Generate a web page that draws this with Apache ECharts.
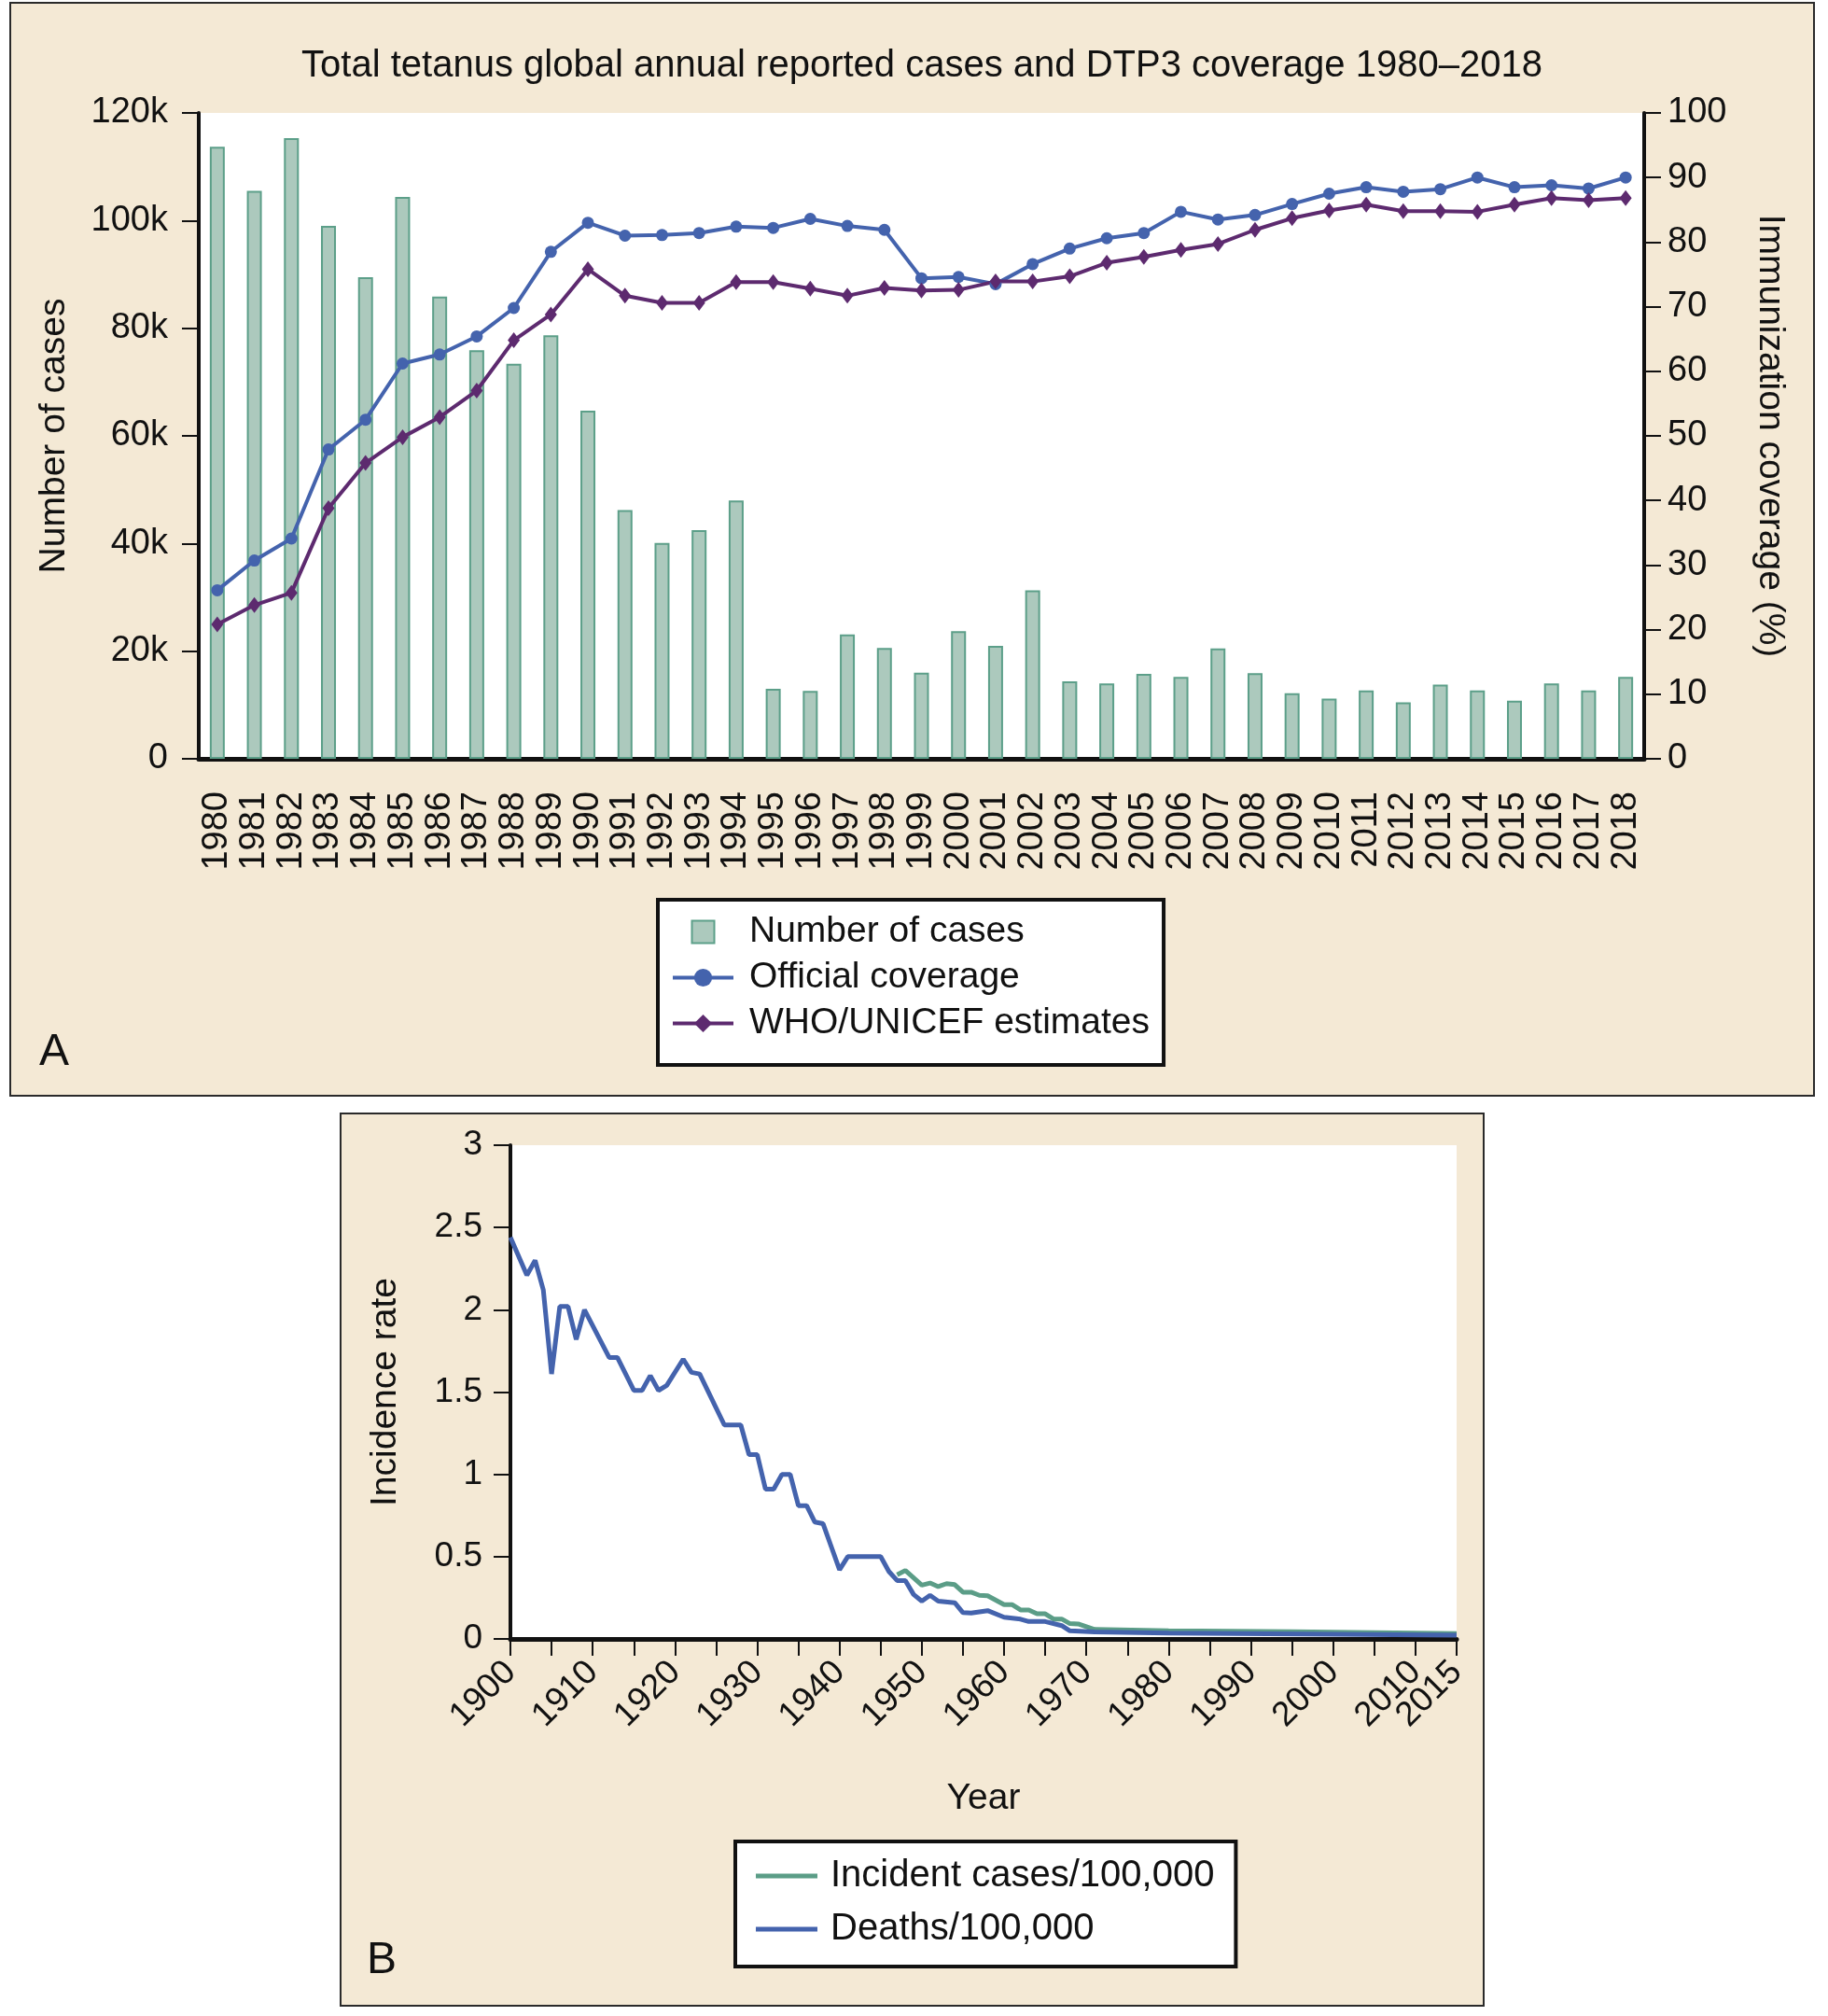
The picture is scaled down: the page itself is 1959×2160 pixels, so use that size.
<!DOCTYPE html>
<html>
<head>
<meta charset="utf-8">
<title>Tetanus cases and DTP3 coverage</title>
<script src="https://cdn.jsdelivr.net/npm/echarts@6/dist/echarts.min.js"></script>
<style>
html, body { margin: 0; padding: 0; background: #fff; }
#main { width: 1959px; height: 2160px; }
</style>
</head>
<body>
<div id="main"></div>
<script>
// panel A: cases (bars) + coverage (lines)
const years = ['1980', '1981', '1982', '1983', '1984', '1985', '1986', '1987', '1988', '1989',
    '1990', '1991', '1992', '1993', '1994', '1995', '1996', '1997', '1998', '1999',
    '2000', '2001', '2002', '2003', '2004', '2005', '2006', '2007', '2008', '2009',
    '2010', '2011', '2012', '2013', '2014', '2015', '2016', '2017', '2018']
const cases = [113700, 105500, 115300, 99000, 89500, 104400, 85900, 75900, 73400, 78700,
    64700, 46200, 40100, 42500, 48000, 13000, 12600, 23100, 20600, 16000,
    23700, 21000, 31300, 14400, 14000, 15800, 15200, 20500, 15900, 12200,
    11200, 12700, 10500, 13800, 12700, 10800, 14000, 12700, 15200]
const officialCoverage = [26.1, 30.7, 34.1, 47.9, 52.5, 61.2, 62.6, 65.4, 69.8, 78.5,
    83.0, 81.0, 81.1, 81.4, 82.4, 82.2, 83.6, 82.5, 81.9, 74.4,
    74.6, 73.5, 76.6, 79.0, 80.6, 81.4, 84.7, 83.5, 84.2, 85.9,
    87.5, 88.5, 87.8, 88.2, 90.0, 88.5, 88.8, 88.3, 90.0]
const whoUnicef = [20.8, 23.8, 25.7, 38.8, 45.8, 49.8, 52.9, 57.0, 64.8, 68.8,
    75.8, 71.7, 70.6, 70.6, 73.8, 73.8, 72.8, 71.7, 72.9, 72.5,
    72.6, 73.9, 73.9, 74.7, 76.8, 77.7, 78.8, 79.7, 81.9, 83.7,
    84.9, 85.8, 84.8, 84.8, 84.7, 85.8, 86.8, 86.5, 86.8]

// panel B: rates per 100,000 (vertices)
const incidentCases = [
    [1947, 0.39], [1948, 0.416], [1950, 0.327], [1951, 0.34], [1952, 0.318], [1953, 0.336],
    [1954, 0.33], [1955, 0.284], [1956, 0.284], [1957, 0.265], [1958, 0.262], [1960, 0.208],
    [1961, 0.208], [1962, 0.176], [1963, 0.176], [1964, 0.153], [1965, 0.153], [1966, 0.121],
    [1967, 0.121], [1968, 0.093], [1969, 0.091], [1971, 0.058], [1980, 0.049], [1995, 0.044],
    [2015, 0.033]
]
const deaths = [
    [1900, 2.44], [1902, 2.21], [1903, 2.30], [1904, 2.12], [1905, 1.61], [1906, 2.02],
    [1907, 2.02], [1908, 1.82], [1909, 2.00], [1912, 1.71], [1913, 1.71], [1915, 1.51],
    [1916, 1.51], [1917, 1.60], [1918, 1.51], [1919, 1.54], [1921, 1.70], [1922, 1.62],
    [1923, 1.61], [1926, 1.30], [1928, 1.30], [1929, 1.12], [1930, 1.12], [1931, 0.91],
    [1932, 0.91], [1933, 1.00], [1934, 1.00], [1935, 0.81], [1936, 0.81], [1937, 0.71],
    [1938, 0.70], [1939, 0.56], [1940, 0.42], [1941, 0.50], [1945, 0.50], [1946, 0.41],
    [1947, 0.355], [1948, 0.355], [1949, 0.27], [1950, 0.23], [1951, 0.265], [1952, 0.23],
    [1954, 0.22], [1955, 0.16], [1956, 0.157], [1958, 0.172], [1960, 0.132], [1962, 0.12],
    [1963, 0.106], [1965, 0.106], [1967, 0.081], [1968, 0.049], [1971, 0.042], [1980, 0.035],
    [2000, 0.028], [2015, 0.022]
]
// the decade labels, plus the lone end label that overlaps 2010
const decadeLabels = [1900, 1910, 1920, 1930, 1940, 1950, 1960, 1970, 1980, 1990, 2000, 2010]
const endLabel = 2015

const FONT = 'Liberation Sans, Arial, Helvetica, sans-serif'
const INK = '#111'
const BEIGE = '#f4e9d5'
const BLUE = '#4463ad'
const PURPLE = '#5d2a6f'
const GREEN = '#5b9d87'

let txt = (size) => ({ fontSize: size, color: INK, fontFamily: FONT })

let myChart = echarts.init(document.getElementById('main'), null, { renderer: 'canvas' })

let yearAxisB = {
    gridIndex: 1,
    type: 'value',
    position: 'bottom',
    min: 1900,
    max: 2015,
    interval: 5,
    splitLine: { show: false }
}

let option = {
    animation: false,
    backgroundColor: '#fff',
    title: {
        text: 'Total tetanus global annual reported cases and DTP3 coverage 1980\u20132018',
        left: 988,
        top: 51,
        padding: 0,
        textAlign: 'center',
        textStyle: Object.assign(txt(40), { fontWeight: 'normal' })
    },
    graphic: {
        elements: [
            { type: 'rect', z: -10, shape: { x: 11, y: 3, width: 1933, height: 1171 },
              style: { fill: BEIGE, stroke: '#2a2a2a', lineWidth: 2 } },
            { type: 'rect', z: -10, shape: { x: 365, y: 1193, width: 1225, height: 956 },
              style: { fill: BEIGE, stroke: '#2a2a2a', lineWidth: 2 } },
            { type: 'text', x: 58, y: 1128,
              style: { text: 'A', fontSize: 48, fontFamily: FONT, fill: INK, textAlign: 'center', textVerticalAlign: 'middle' } },
            { type: 'text', x: 409, y: 2101,
              style: { text: 'B', fontSize: 48, fontFamily: FONT, fill: INK, textAlign: 'center', textVerticalAlign: 'middle' } }
        ]
    },
    legend: [{
        orient: 'vertical',
        left: 705,
        top: 964,
        padding: [15, 15, 25, 14],
        itemGap: 10,
        itemWidth: 65,
        itemHeight: 24,
        selectedMode: false,
        backgroundColor: '#fff',
        borderColor: INK,
        borderWidth: 4,
        borderRadius: 0,
        textStyle: Object.assign(txt(39), { padding: [0, 0, 0, 12] }),
        data: [
            { name: 'Number of cases', icon: 'path://M0,0L10,0L10,10L0,10Z',
              itemStyle: { color: '#acc9bd', borderColor: '#5c9f89', borderWidth: 2 } },
            { name: 'Official coverage', lineStyle: { color: BLUE, width: 4 } },
            { name: 'WHO/UNICEF estimates', lineStyle: { color: PURPLE, width: 4 } }
        ]
    }, {
        orient: 'vertical',
        left: 788,
        top: 1973,
        padding: [17, 23, 20, 22],
        itemGap: 17,
        itemWidth: 66,
        itemHeight: 5,
        icon: 'rect',
        selectedMode: false,
        backgroundColor: '#fff',
        borderColor: INK,
        borderWidth: 4,
        borderRadius: 0,
        textStyle: Object.assign(txt(40), { padding: [0, 0, 0, 9] }),
        data: ['Incident cases/100,000', 'Deaths/100,000']
    }],
    grid: [{
        left: 213,
        top: 121,
        width: 1549,
        height: 692,
        show: true,
        backgroundColor: '#fff',
        borderWidth: 0,
        outerBoundsMode: 'none'
    }, {
        left: 547,
        top: 1227,
        width: 1014,
        height: 529,
        show: true,
        backgroundColor: '#fff',
        borderWidth: 0,
        outerBoundsMode: 'none'
    }],
    xAxis: [{
        gridIndex: 0,
        type: 'category',
        position: 'bottom',
        data: years,
        boundaryGap: true,
        axisLine: { lineStyle: { color: INK, width: 5 } },
        axisTick: { interval: 0, length: 18, lineStyle: { color: INK, width: 2 } },
        axisLabel: Object.assign(txt(38), { interval: 0, rotate: 90, margin: 35 }),
        splitLine: { show: false }
    }, Object.assign({}, yearAxisB, {
        name: 'Year',
        nameLocation: 'middle',
        nameGap: 152,
        nameTextStyle: txt(39),
        axisLine: { show: true, lineStyle: { color: INK, width: 5 } },
        axisTick: { show: true, length: 18, lineStyle: { color: INK, width: 2 } },
        axisLabel: Object.assign(txt(37), {
            rotate: 45,
            margin: 30,
            showMinLabel: true,
            formatter: v => decadeLabels.indexOf(v) >= 0 ? String(v) : ''
        })
    }), Object.assign({}, yearAxisB, {
        axisLine: { show: false },
        axisTick: { show: false },
        axisLabel: Object.assign(txt(37), {
            rotate: 45,
            margin: 30,
            showMaxLabel: true,
            formatter: v => v === endLabel ? String(v) : ''
        })
    })],
    yAxis: [{
        gridIndex: 0,
        type: 'value',
        position: 'left',
        min: 0,
        max: 120000,
        interval: 20000,
        name: 'Number of cases',
        nameLocation: 'middle',
        nameRotate: 90,
        nameGap: 135,
        nameTextStyle: txt(39),
        axisLine: { show: true, lineStyle: { color: INK, width: 4 } },
        axisTick: { show: true, length: 18, lineStyle: { color: INK, width: 2 } },
        axisLabel: Object.assign(txt(38), { margin: 33, formatter: v => v === 0 ? '0' : (v / 1000) + 'k' }),
        splitLine: { show: false }
    }, {
        gridIndex: 0,
        type: 'value',
        position: 'right',
        min: 0,
        max: 100,
        interval: 10,
        name: 'Immunization coverage (%)',
        nameLocation: 'middle',
        nameRotate: -90,
        nameGap: 115,
        nameTextStyle: txt(39),
        axisLine: { show: true, lineStyle: { color: INK, width: 4 } },
        axisTick: { show: true, length: 18, lineStyle: { color: INK, width: 2 } },
        axisLabel: Object.assign(txt(38), { margin: 25 }),
        splitLine: { show: false }
    }, {
        gridIndex: 1,
        type: 'value',
        position: 'left',
        min: 0,
        max: 3,
        interval: 0.5,
        name: 'Incidence rate',
        nameLocation: 'middle',
        nameRotate: 90,
        nameGap: 114,
        nameTextStyle: txt(39),
        axisLine: { show: true, lineStyle: { color: INK, width: 4 } },
        axisTick: { show: true, length: 18, lineStyle: { color: INK, width: 2 } },
        axisLabel: Object.assign(txt(37), { margin: 30 }),
        splitLine: { show: false }
    }],
    series: [{
        name: 'Number of cases',
        type: 'bar',
        xAxisIndex: 0,
        yAxisIndex: 0,
        barWidth: 16,
        itemStyle: { color: '#acc9bd', borderColor: '#5c9f89', borderWidth: 2 },
        data: cases
    }, {
        name: 'Official coverage',
        type: 'line',
        xAxisIndex: 0,
        yAxisIndex: 1,
        symbol: 'circle',
        symbolSize: 13,
        lineStyle: { color: BLUE, width: 4 },
        itemStyle: { color: BLUE },
        data: officialCoverage
    }, {
        name: 'WHO/UNICEF estimates',
        type: 'line',
        xAxisIndex: 0,
        yAxisIndex: 1,
        symbol: 'diamond',
        symbolSize: [13, 17],
        lineStyle: { color: PURPLE, width: 4 },
        itemStyle: { color: PURPLE },
        data: whoUnicef
    }, {
        name: 'Incident cases/100,000',
        type: 'line',
        xAxisIndex: 1,
        yAxisIndex: 2,
        symbol: 'none',
        lineStyle: { color: GREEN, width: 5 },
        itemStyle: { color: GREEN },
        data: incidentCases
    }, {
        name: 'Deaths/100,000',
        type: 'line',
        xAxisIndex: 1,
        yAxisIndex: 2,
        symbol: 'none',
        lineStyle: { color: BLUE, width: 5 },
        itemStyle: { color: BLUE },
        data: deaths
    }]
}

myChart.setOption(option)
</script>
</body>
</html>
